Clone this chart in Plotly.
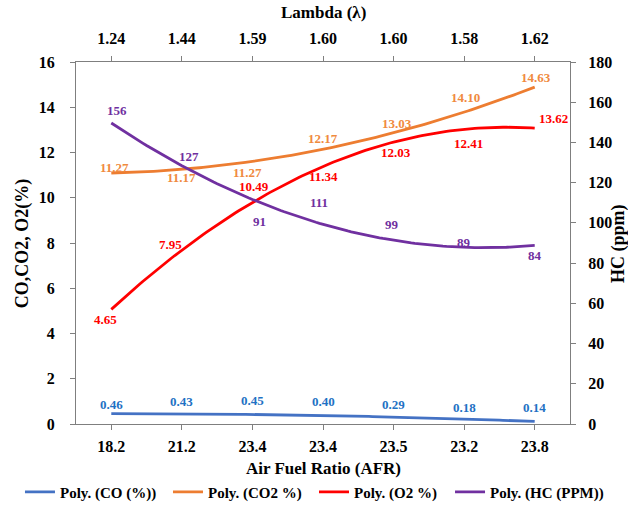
import numpy as np
import plotly.graph_objects as go

afr_labels = ["18.2", "21.2", "23.4", "23.4", "23.5", "23.2", "23.8"]
lambda_labels = ["1.24", "1.44", "1.59", "1.60", "1.60", "1.58", "1.62"]

co = [0.46, 0.43, 0.45, 0.40, 0.29, 0.18, 0.14]
co2 = [11.27, 11.17, 11.27, 12.17, 13.03, 14.10, 14.63]
o2 = [4.65, 7.95, 10.49, 11.34, 12.03, 12.41, 13.62]
hc = [156, 127, 91, 111, 99, 89, 84]

FONT = "Liberation Serif"
pos = np.arange(len(afr_labels))
dense = np.linspace(0, len(afr_labels) - 1, 121)

# label pixel offsets (style only)
shifts = {
    "co": ([0, 0, 0, 0, 0, 0, 0], [9, 13, 13, 13, 13, 12, 13]),
    "co2": ([3, 0, -5, 0, 3, 1, 1], [2, -6, -3, 10, 6, 7, 16]),
    "o2": ([-6, -11, 2, 0, 2, 4, 19], [-1, 0, 0, -9, -1, 0, -3]),
    "hc": ([6, 7, 7, -4, -2, 0, 0], [0, 12, 19, -2, 0, 3, 0]),
}

series = [
    ("co", "Poly. (CO (%))", co, "#4472C4", "#1F72C4", "y", "legend", 0.0318),
    ("co2", "Poly. (CO2 %)", co2, "#ED7D31", "#F08A3E", "y", "legend2", 0.2675),
    ("o2", "Poly. (O2 %)", o2, "#FF0000", "#FF0000", "y", "legend3", 0.5),
    ("hc", "Poly. (HC (PPM))", hc, "#7030A0", "#7030A0", "y2", "legend4", 0.7166),
]

fig = go.Figure()
annotations = []
legends = {}
for key, name, vals, lc, tc, yax, leg, lx in series:
    coef = np.polyfit(pos, vals, 2)
    fig.add_trace(go.Scatter(
        x=dense, y=np.polyval(coef, dense), mode="lines", name=name,
        line=dict(color=lc, width=2.8), yaxis=yax, hoverinfo="skip",
        legend=leg))
    legends[leg] = dict(
        orientation="h", xref="container", x=lx, xanchor="left",
        yref="container", y=0.061, yanchor="middle",
        bgcolor="rgba(0,0,0,0)",
        font=dict(family=FONT, size=15, color="black", weight="bold"),
        itemwidth=30)
    xs, ys = shifts[key]
    for i, v in enumerate(vals):
        txt = f"{v:.2f}" if key != "hc" else f"{v}"
        annotations.append(dict(
            x=i, y=v, xref="x", yref=yax, text=txt, showarrow=False,
            xshift=xs[i], yshift=ys[i], xanchor="center", yanchor="middle",
            font=dict(family=FONT, size=13, color=tc, weight="bold")))

xt_font = dict(family=FONT, size=17, color="black", weight="bold")
yt_font = dict(family=FONT, size=18, color="black", weight="bold")
annotations += [
    dict(text="Lambda (λ)", xref="paper", yref="paper", x=0.5, y=1.138,
         xanchor="center", yanchor="middle", showarrow=False, font=xt_font),
    dict(text="Air Fuel Ratio (AFR)", xref="paper", yref="paper", x=0.5,
         y=-0.124, xanchor="center", yanchor="middle", showarrow=False,
         font=xt_font),
    dict(text="CO,CO2, O2(%)", xref="paper", yref="paper", x=-0.109,
         y=0.5, textangle=-90, xanchor="center", yanchor="middle",
         showarrow=False, font=yt_font),
    dict(text="HC (ppm)", xref="paper", yref="paper", x=1.097,
         y=0.5, textangle=-90, xanchor="center", yanchor="middle",
         showarrow=False, font=yt_font),
]

# invisible trace to anchor the top axis
fig.add_trace(go.Scatter(x=pos, y=co, xaxis="x2", mode="none",
                         showlegend=False, hoverinfo="skip"))

axis_common = dict(
    showline=True, linecolor="#7f7f7f", linewidth=1.2, ticks="outside",
    ticklen=5, tickcolor="#7f7f7f", showgrid=False, zeroline=False,
    automargin=False,
    tickfont=dict(family=FONT, size=16, color="black", weight="bold"),
)

fig.update_layout(
    width=628, height=524,
    margin=dict(l=76, r=58, t=62, b=100),
    paper_bgcolor="white", plot_bgcolor="white",
    annotations=annotations,
    xaxis=dict(
        **axis_common, range=[-0.5, 6.5], tickmode="array",
        tickvals=list(pos), ticktext=afr_labels, ticklabelstandoff=3,
    ),
    xaxis2=dict(
        **axis_common, range=[-0.5, 6.5], overlaying="x", side="top",
        tickmode="array", tickvals=list(pos), ticktext=lambda_labels,
        ticklabelstandoff=6,
    ),
    yaxis=dict(
        **axis_common, range=[0, 16], dtick=2, ticklabelstandoff=12,
    ),
    yaxis2=dict(
        **axis_common, range=[0, 180], dtick=20, overlaying="y", side="right",
        ticklabelstandoff=9,
    ),
    showlegend=True,
    **legends,
)

fig.write_html(
    "out.html",
    config={"displayModeBar": False},
    post_script="document.body.style.margin='0';document.body.style.padding='0';",
)
